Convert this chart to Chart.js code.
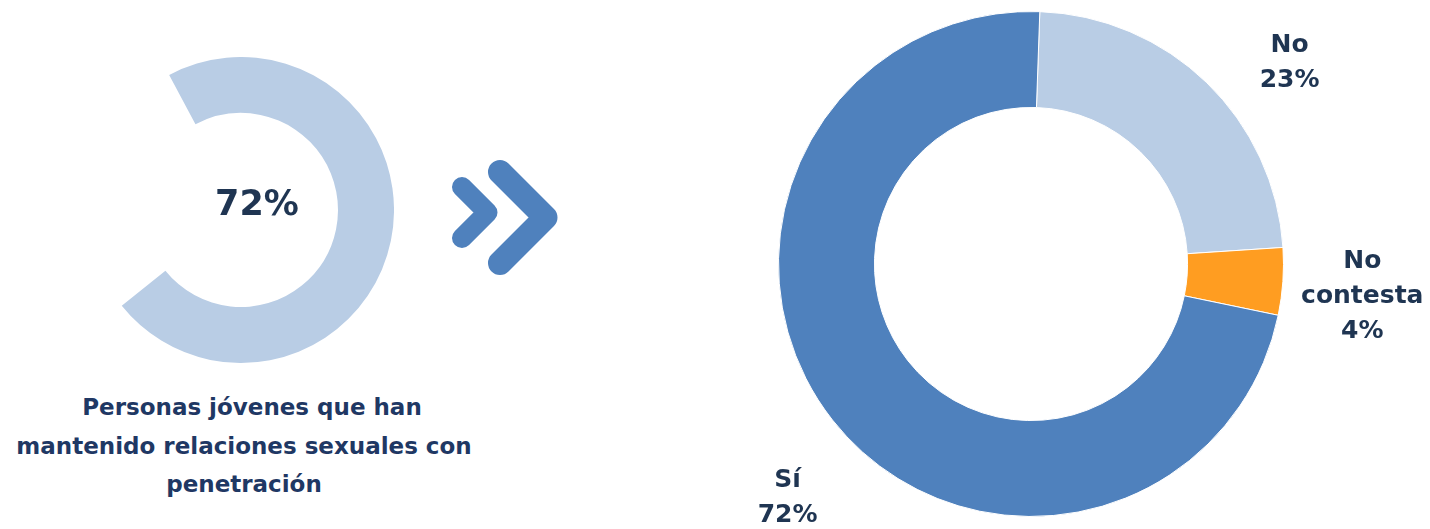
<!DOCTYPE html>
<html><head><meta charset="utf-8">
<script src="https://cdn.jsdelivr.net/npm/chart.js@4/dist/chart.umd.min.js"></script>
<style>
html,body{margin:0;padding:0;background:#fff;width:1430px;height:529px;overflow:hidden;position:relative;}
#left{position:absolute;left:88px;top:57px;width:306px;height:306px;}
#right{position:absolute;left:700px;top:0;width:730px;height:529px;}
#chev{position:absolute;left:0;top:0;}
.cap{position:absolute;font-family:"DejaVu Sans";font-weight:bold;font-size:23px;line-height:38.5px;color:#1F3864;white-space:nowrap;transform:translateX(-50%);}
</style></head><body>
<canvas id="left" width="306" height="306"></canvas>
<svg id="chev" width="600" height="300">
  <polyline points="462,187 487.5,212.5 462,238" fill="none" stroke="#4F81BD" stroke-width="20" stroke-linecap="round" stroke-linejoin="round"/>
  <polyline points="500,172 545.5,217.5 500,263" fill="none" stroke="#4F81BD" stroke-width="24" stroke-linecap="round" stroke-linejoin="round"/>
</svg>
<canvas id="right" width="730" height="529"></canvas>
<div class="cap" style="left:252px;top:388px">Personas jóvenes que han</div>
<div class="cap" style="left:244px;top:426.5px">mantenido relaciones sexuales con</div>
<div class="cap" style="left:244px;top:465px">penetración</div>
<script>
// ---- data ----
const leftLabels = ['Sí', 'Resto'];
const leftValues = [72, 28];
const categories = ['No', 'No contesta', 'Sí'];
const values = [23.4, 4.3, 72.3];
const colors = ['#B9CDE5', '#FF9D21', '#4F81BD'];
const textColor = '#1F3552';

Chart.defaults.font.family = '"DejaVu Sans"';

const centerText = {
  id: 'centerText',
  afterDatasetsDraw(chart) {
    const arc = chart.getDatasetMeta(0).data[0];
    const ctx = chart.ctx;
    ctx.save();
    ctx.font = 'bold 35px "DejaVu Sans"';
    ctx.fillStyle = textColor;
    ctx.textAlign = 'center';
    ctx.textBaseline = 'middle';
    ctx.fillText(chart.data.datasets[0].data[0] + '%', arc.x + 16, arc.y - 4);
    ctx.restore();
  }
};

new Chart(document.getElementById('left'), {
  type: 'doughnut',
  data: { labels: leftLabels, datasets: [{ data: leftValues, backgroundColor: ['#B9CDE5', 'rgba(0,0,0,0)'], borderWidth: 0 }] },
  options: {
    responsive: false, animation: false, events: [],
    rotation: -28, cutout: '63.4%',
    layout: { padding: 0 },
    plugins: { legend: { display: false }, tooltip: { enabled: false } }
  },
  plugins: [centerText]
});

const outLabels = {
  id: 'outLabels',
  afterDatasetsDraw(chart, args, opts) {
    const ctx = chart.ctx;
    const arcs = chart.getDatasetMeta(0).data;
    ctx.save();
    ctx.font = 'bold 25px "DejaVu Sans"';
    ctx.fillStyle = textColor;
    ctx.textAlign = 'center';
    ctx.textBaseline = 'middle';
    arcs.forEach((arc, i) => {
      const lines = chart.data.labels[i].split(' ').concat([Math.round(chart.data.datasets[0].data[i]) + '%']);
      const a = opts.anchors[i];
      const x = arc.x + a[0] * arc.outerRadius;
      const y = arc.y + a[1] * arc.outerRadius;
      const lh = 35;
      const y0 = y - (lines.length - 1) * lh / 2;
      lines.forEach((t, k) => ctx.fillText(t, x, y0 + k * lh));
    });
    ctx.restore();
  }
};

new Chart(document.getElementById('right'), {
  type: 'doughnut',
  data: { labels: categories, datasets: [{ data: values, backgroundColor: colors, borderColor: '#ffffff', borderWidth: 1 }] },
  options: {
    responsive: false, animation: false, events: [],
    rotation: 2, cutout: '62%',
    layout: { padding: { left: 78, right: 146, top: 11, bottom: 12 } },
    plugins: {
      legend: { display: false }, tooltip: { enabled: false },
      outLabels: { anchors: [[1.024, -0.796], [1.312, 0.130], [-0.964, 0.927]] }
    }
  },
  plugins: [outLabels]
});
</script>
</body></html>
